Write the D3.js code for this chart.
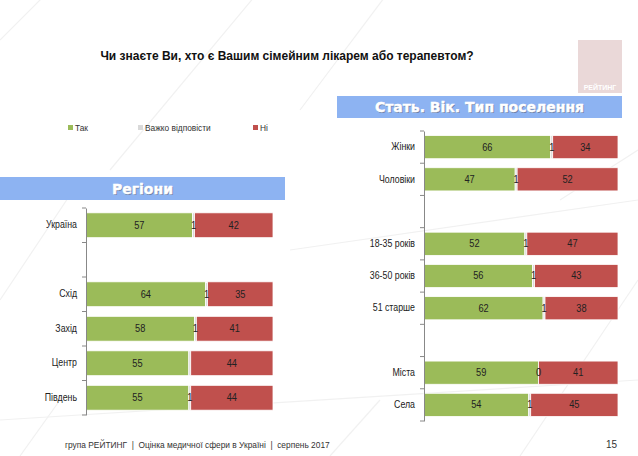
<!DOCTYPE html>
<html>
<head>
<meta charset="utf-8">
<script src="https://cdn.jsdelivr.net/npm/d3@7"></script>
<style>
  body { margin: 0; background: #fff; }
  svg { display: block; font-family: "Liberation Sans", Arial, sans-serif; }
</style>
</head>
<body>
<div id="chart"></div>
<script>
// categories for the two panels ("" = empty gap row)
var regionCats = ["Україна", "", "Схід", "Захід", "Центр", "Південь"];
var regionTak = [57, null, 64, 58, 55, 55];
var regionVazhko = [1, null, 1, 1, 1, 1];
var regionNi = [42, null, 35, 41, 44, 44];

var groupCats = ["Жінки", "Чоловіки", "", "18-35 років", "36-50 років", "51 старше", "", "Міста", "Села"];
var groupTak = [66, 47, null, 52, 56, 62, null, 59, 54];
var groupVazhko = [1, 1, null, 1, 1, 1, null, 0, 1];
var groupNi = [34, 52, null, 47, 43, 38, null, 41, 45];

var seriesNames = ["Так", "Важко відповісти", "Ні"];
var seriesColors = ["#9bbb59", "#d9d9d9", "#c0504d"];
var hiddenMidLabels = ["Центр"];

var W = 638, H = 456;
var NARROW = 0.88; // squeeze text, the original uses a narrow font
var svg = d3.select("#chart").append("svg").attr("width", W).attr("height", H);

// squeeze a text horizontally while keeping its anchor point at x
function narrow(sel, x) {
  sel.attr("x", x / NARROW).attr("transform", "scale(" + NARROW + ",1)");
}

// faint background lines
var deco = [[0, 40, 50, -10], [110, 170, 260, -10], [300, 110, 390, -10], [0, 300, 80, 180], [520, 456, 638, 280],
  [20, 456, 60, 400], [330, 456, 380, 400], [560, 200, 638, 150], [0, 420, 638, 380], [290, 250, 638, 200]];
svg.selectAll("line.deco").data(deco).enter().append("line")
  .attr("x1", d => d[0]).attr("y1", d => d[1]).attr("x2", d => d[2]).attr("y2", d => d[3])
  .attr("stroke", "#f1f1f1").attr("stroke-width", 1.2);

// title
svg.append("text")
  .attr("x", 287).attr("y", 60)
  .attr("text-anchor", "middle")
  .style("font-weight", "bold").style("font-size", "12px").style("fill", "#111")
  .text("Чи знаєте Ви, хто є Вашим сімейним лікарем або терапевтом?");

// logo
svg.append("rect").attr("x", 578).attr("y", 40).attr("width", 44).attr("height", 53).attr("fill", "#ead8d8");
svg.append("text").attr("x", 600).attr("y", 90).attr("text-anchor", "middle")
  .style("font-size", "7px").style("font-weight", "bold").style("fill", "#fff").text("РЕЙТИНГ");

// legend
var legendX = [68, 138, 253];
var legend = svg.selectAll("g.legend").data(seriesNames).enter().append("g")
  .attr("transform", (d, i) => "translate(" + legendX[i] + ",124)");
legend.append("rect").attr("width", 5).attr("height", 5).attr("y", 1).attr("fill", (d, i) => seriesColors[i]);
legend.append("text").attr("y", 7).style("font-size", "9.5px").style("fill", "#333").text(d => d)
  .call(narrow, 7);

// banners
function banner(x, y, w, h, label) {
  svg.append("rect").attr("x", x).attr("y", y).attr("width", w).attr("height", h).attr("fill", "#8db3f2");
  svg.append("text").attr("x", x + w / 2 + 1).attr("y", y + h / 2 + 6).attr("text-anchor", "middle")
    .style("font-family", "'DejaVu Sans', sans-serif").style("font-weight", "bold")
    .style("font-size", "14px").style("fill", "#6f82a8").text(label);
  svg.append("text").attr("x", x + w / 2).attr("y", y + h / 2 + 5).attr("text-anchor", "middle")
    .style("font-family", "'DejaVu Sans', sans-serif").style("font-weight", "bold")
    .style("font-size", "14px").style("fill", "#fff").style("stroke", "#fff").style("stroke-width", 0.4)
    .text(label);
}
banner(0, 177, 285, 23, "Регіони");
banner(337, 96, 285, 22, "Стать. Вік. Тип поселення");

function stackedPanel(cats, tak, vazhko, ni, x0, x1, y0, y1) {
  var rows = cats.map((c, i) => ({ key: "r" + i, name: c, tak: tak[i] || 0, vazhko: vazhko[i] || 0, ni: ni[i] || 0, empty: tak[i] == null }));
  var keys = ["tak", "vazhko", "ni"];
  var series = d3.stack().keys(keys).offset(d3.stackOffsetExpand)(rows.filter(r => !r.empty));

  var x = d3.scaleLinear().domain([0, 1]).range([x0, x1]);
  var y = d3.scaleBand().domain(rows.map(r => r.key)).range([y0, y1]).paddingInner(0.28).paddingOuter(0.14);

  var g = svg.append("g");
  var layer = g.selectAll("g.layer").data(series).enter().append("g").attr("fill", (d, i) => seriesColors[i]);
  layer.selectAll("rect").data(d => d).enter().append("rect")
    .attr("x", d => x(d[0]))
    .attr("width", d => x(d[1]) - x(d[0]))
    .attr("y", d => y(d.data.key))
    .attr("height", y.bandwidth())
    .attr("stroke", "#fff").attr("stroke-width", 0.8);

  // value labels
  series.forEach((s, si) => {
    g.selectAll("text.v" + si).data(s.filter(d => !(si === 1 && hiddenMidLabels.indexOf(d.data.name) >= 0)))
      .enter().append("text")
      .attr("y", d => y(d.data.key) + y.bandwidth() / 2 + 3.5)
      .attr("text-anchor", "middle")
      .style("font-size", "10.5px").style("fill", "#222")
      .text(d => d.data[keys[si]])
      .each(function (d) { d3.select(this).call(narrow, (x(d[0]) + x(d[1])) / 2); });
  });

  // axis with category labels
  var axis = g.append("g").attr("transform", "translate(" + x0 + ",0)")
    .call(d3.axisLeft(y).tickSize(0).tickPadding(9).tickFormat(k => rows.find(r => r.key === k).name));
  axis.select(".domain").attr("stroke", "#888");
  axis.selectAll("text").style("font-size", "10px").style("fill", "#222").call(narrow, -9);

  // tick marks between categories
  var step = y.step();
  var bounds = rows.map(r => y(r.key) - step * y.paddingInner() / 2);
  bounds.push(y1);
  bounds[0] = y0;
  g.selectAll("line.tk").data(bounds).enter().append("line")
    .attr("x1", x0 - 4).attr("x2", x0).attr("y1", d => d).attr("y2", d => d)
    .attr("stroke", "#888");
}

stackedPanel(regionCats, regionTak, regionVazhko, regionNi, 86, 273, 208, 415);
stackedPanel(groupCats, groupTak, groupVazhko, groupNi, 424, 618, 131, 421);

// footer
svg.append("text").attr("y", 448)
  .style("font-size", "9.5px").style("fill", "#333").style("white-space", "pre")
  .text("група РЕЙТИНГ  |  Оцінка медичної сфери в Україні  |  серпень 2017")
  .call(narrow, 65);
svg.append("text").attr("x", 617).attr("y", 448).attr("text-anchor", "end")
  .style("font-size", "10px").style("fill", "#333").text("15");
</script>
</body>
</html>
